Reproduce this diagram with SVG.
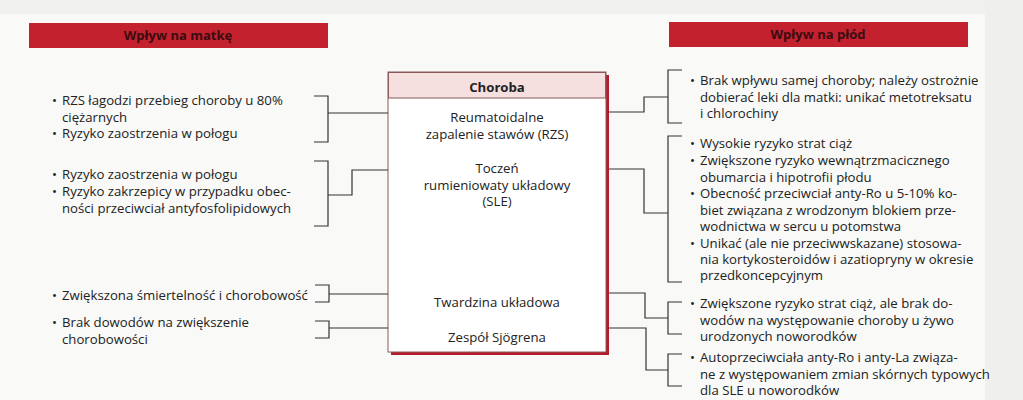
<svg xmlns="http://www.w3.org/2000/svg" width="1023" height="400" viewBox="0 0 1023 400">
<style>
.t{font-family:"Open Sans","Liberation Sans",sans-serif;font-size:13.2px;fill:#222}
.c{text-anchor:middle}
.h{font-family:"Open Sans","Liberation Sans",sans-serif;font-size:13px;font-weight:bold;fill:#3a0c10;text-anchor:middle}
.hb{fill:#c4212f}
.ln{fill:none;stroke:#333;stroke-width:1.2}
</style>
<rect x="0" y="0" width="1023" height="400" fill="#f9f9f7"/>
<rect x="0" y="0" width="1000" height="14" fill="#f0f0ee"/>
<rect x="985" y="0" width="38" height="400" fill="#efefed"/>

<g id="header-left">
<rect class="hb" x="29" y="23" width="299" height="25"/>
<text class="h" x="178" y="40">Wpływ na matkę</text>
</g>
<g id="header-right">
<rect class="hb" x="669" y="22" width="299" height="25"/>
<text class="h" x="818" y="39">Wpływ na płód</text>
</g>

<g id="disease-box">
<rect x="391" y="75" width="218" height="280" fill="#b51b2d"/>
<rect x="388" y="72" width="218" height="280" fill="#fff" stroke="#8a5a5a" stroke-width="1"/>
<rect x="388.5" y="72.5" width="217" height="25.5" fill="#f5dfdf" stroke="#8a5a5a" stroke-width="1"/>
<text class="t c" x="497" y="92" font-weight="bold">Choroba</text>
<text class="t c" x="497" y="122">Reumatoidalne</text>
<text class="t c" x="497" y="139">zapalenie stawów (RZS)</text>
<text class="t c" x="497" y="173">Toczeń</text>
<text class="t c" x="497" y="190">rumieniowaty układowy</text>
<text class="t c" x="497" y="206">(SLE)</text>
<text class="t c" x="497" y="307">Twardzina układowa</text>
<text class="t c" x="497" y="342">Zespół Sjögrena</text>
</g>

<g id="left-1">
<text class="t" x="52" y="105">•</text>
<text class="t" x="62" y="105">RZS łagodzi przebieg choroby u 80%</text>
<text class="t" x="62" y="122">ciężarnych</text>
<text class="t" x="52" y="138">•</text>
<text class="t" x="62" y="138">Ryzyko zaostrzenia w połogu</text>
</g>
<g id="left-2">
<text class="t" x="52" y="179">•</text>
<text class="t" x="62" y="179">Ryzyko zaostrzenia w połogu</text>
<text class="t" x="52" y="196">•</text>
<text class="t" x="62" y="196">Ryzyko zakrzepicy w przypadku obec-</text>
<text class="t" x="62" y="213">ności przeciwciał antyfosfolipidowych</text>
</g>
<g id="left-3">
<text class="t" x="52" y="300">•</text>
<text class="t" x="62" y="300">Zwiększona śmiertelność i chorobowość</text>
</g>
<g id="left-4">
<text class="t" x="52" y="327">•</text>
<text class="t" x="62" y="327">Brak dowodów na zwiększenie</text>
<text class="t" x="62" y="344">chorobowości</text>
</g>

<g id="right-1">
<text class="t" x="690" y="85">•</text>
<text class="t" x="700" y="85">Brak wpływu samej choroby; należy ostrożnie</text>
<text class="t" x="700" y="102">dobierać leki dla matki: unikać metotreksatu</text>
<text class="t" x="700" y="118">i chlorochiny</text>
</g>
<g id="right-2">
<text class="t" x="690" y="148">•</text>
<text class="t" x="700" y="148">Wysokie ryzyko strat ciąż</text>
<text class="t" x="690" y="165">•</text>
<text class="t" x="700" y="165">Zwiększone ryzyko wewnątrzmacicznego</text>
<text class="t" x="700" y="182">obumarcia i hipotrofii płodu</text>
<text class="t" x="690" y="198">•</text>
<text class="t" x="700" y="198">Obecność przeciwciał anty-Ro u 5-10% ko-</text>
<text class="t" x="700" y="215">biet związana z wrodzonym blokiem prze-</text>
<text class="t" x="700" y="231">wodnictwa w sercu u potomstwa</text>
<text class="t" x="690" y="248">•</text>
<text class="t" x="700" y="248">Unikać (ale nie przeciwwskazane) stosowa-</text>
<text class="t" x="700" y="264">nia kortykosteroidów i azatiopryny w okresie</text>
<text class="t" x="700" y="280">przedkoncepcyjnym</text>
</g>
<g id="right-3">
<text class="t" x="690" y="308">•</text>
<text class="t" x="700" y="308">Zwiększone ryzyko strat ciąż, ale brak do-</text>
<text class="t" x="700" y="325">wodów na występowanie choroby u żywo</text>
<text class="t" x="700" y="341">urodzonych noworodków</text>
</g>
<g id="right-4">
<text class="t" x="690" y="362">•</text>
<text class="t" x="700" y="362">Autoprzeciwciała anty-Ro i anty-La związa-</text>
<text class="t" x="700" y="379">ne z występowaniem zmian skórnych typowych</text>
<text class="t" x="700" y="395">dla SLE u noworodków</text>
</g>

<g id="connectors">
<path class="ln" d="M314,96 H328 V142 H314 M328,113 H388"/>
<path class="ln" d="M314,161 H328 V226 H314 M328,195 H352 V170 H388"/>
<path class="ln" d="M315,285 H329 V302 H315 M329,294 H388"/>
<path class="ln" d="M315,321 H329 V338 H315 M329,328 H388"/>
<path class="ln" d="M682,70 H668 V123 H682 M609,112 H644 V97 H668"/>
<path class="ln" d="M682,136 H668 V282 H682 M609,169 H644 V213 H668"/>
<path class="ln" d="M682,302 H668 V334 H682 M609,293 H645 V318 H668"/>
<path class="ln" d="M682,354 H668 V386 H682 M609,328 H646 V370 H668"/>
</g>
</svg>
